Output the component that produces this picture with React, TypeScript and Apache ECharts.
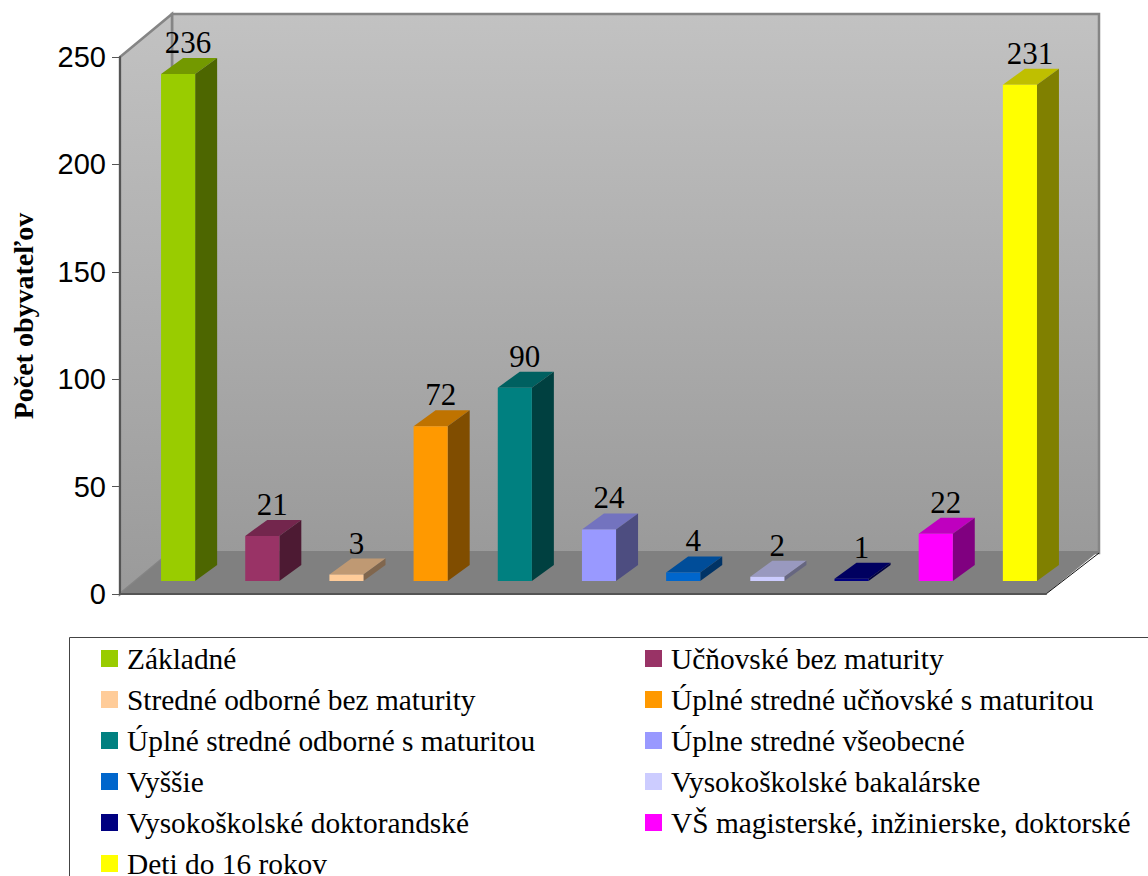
import React, { useEffect, useRef } from "react";
import * as echarts from "echarts";

const categories = [
  "Základné",
  "Učňovské bez maturity",
  "Stredné odborné bez maturity",
  "Úplné stredné učňovské s maturitou",
  "Úplné stredné odborné s maturitou",
  "Úplne stredné všeobecné",
  "Vyššie",
  "Vysokoškolské bakalárske",
  "Vysokoškolské doktorandské",
  "VŠ magisterské, inžinierske, doktorské",
  "Deti do 16 rokov",
];
const values = [236, 21, 3, 72, 90, 24, 4, 2, 1, 22, 231];
const colors = [
  "#99CC00", "#993366", "#FFCC99", "#FF9900", "#008080", "#9999FF",
  "#0066CC", "#CCCCFF", "#000080", "#FF00FF", "#FFFF00",
];
const yTicks = { min: 0, max: 250, interval: 50 };
const yTitle = "Počet obyvateľov";

const SERIF = "'Liberation Serif', 'Times New Roman', serif";
const SANS = "'Liberation Sans', Arial, sans-serif";

const shade = (hex: string, f: number) => {
  const n = parseInt(hex.slice(1), 16);
  const c = (s: number) => Math.round(((n >> s) & 255) * f);
  return `rgb(${c(16)},${c(8)},${c(0)})`;
};

const wallGradient = () =>
  new echarts.graphic.LinearGradient(0, 0, 0, 1, [
    { offset: 0, color: "#c2c2c2" },
    { offset: 1, color: "#9a9a9a" },
  ]);

const renderWalls = (params: any) => {
  const cs = params.coordSys;
  const l = cs.x, t = cs.y, r = cs.x + cs.width, b = cs.y + cs.height;
  const dx = 52, dy = -43, dxr = 53;
  const edge = { stroke: "#858585", lineWidth: 2.5 };
  return {
    type: "group",
    silent: true,
    children: [
      {
        type: "polygon",
        shape: { points: [[l + dx, t + dy], [r + dxr, t + dy], [r + dxr, b + dy + 2], [l + dx, b + dy + 2]] },
        style: { fill: wallGradient(), ...edge },
      },
      {
        type: "polygon",
        shape: { points: [[l, t], [l + dx, t + dy], [l + dx, b + dy], [l, b]] },
        style: { fill: wallGradient(), ...edge },
      },
      {
        type: "polygon",
        shape: { points: [[l, b], [l + dx, b + dy], [r + dxr, b + dy], [r, b]] },
        style: { fill: "#808080" },
      },
      {
        type: "line",
        shape: { x1: r, y1: b, x2: r + dxr, y2: b + dy + 2 },
        style: { stroke: "#111", lineWidth: 1 },
      },
    ],
  };
};

const renderBar = (color: string) => (_params: any, api: any) => {
  const i = api.value(0);
  const v = api.value(1);
  const band = api.size([1, 0])[0];
  const [cx, top0] = api.coord([i, v]);
  const [, base0] = api.coord([i, 0]);
  const w = band * 0.405;
  const shiftX = 16, shiftY = -13, depthX = 22, depthY = -16;
  const x0 = cx + shiftX - w / 2;
  const x1 = x0 + w;
  const top = top0 + shiftY;
  const base = base0 + shiftY;
  return {
    type: "group",
    children: [
      {
        type: "polygon",
        shape: { points: [[x0, top], [x1, top], [x1 + depthX, top + depthY], [x0 + depthX, top + depthY]] },
        style: { fill: shade(color, 0.75) },
      },
      {
        type: "polygon",
        shape: { points: [[x1, top], [x1 + depthX, top + depthY], [x1 + depthX, base + depthY], [x1, base]] },
        style: { fill: shade(color, 0.5) },
      },
      {
        type: "rect",
        shape: { x: x0, y: top, width: w, height: base - top },
        style: { fill: color },
      },
      {
        type: "text",
        style: {
          text: String(v),
          x: (x0 + x1) / 2 + 10,
          y: top + depthY,
          align: "center",
          verticalAlign: "bottom",
          fontSize: 31,
          fontFamily: SERIF,
          fill: "#000",
        },
      },
    ],
  };
};

const legendBase = {
  orient: "vertical",
  selectedMode: false,
  icon: "rect",
  itemWidth: 17,
  itemHeight: 17,
  itemGap: 12,
  padding: 0,
  height: 300,
  textStyle: { fontFamily: SERIF, fontSize: 29.4, lineHeight: 27, color: "#000", padding: [0, 0, 0, 4] },
};

export default function App() {
  const ref = useRef<HTMLDivElement>(null);
  useEffect(() => {
    document.body.style.margin = "0";
    document.body.style.overflow = "hidden";
    const chart = echarts.init(ref.current!, null, { renderer: "svg" });
    chart.setOption({
      animation: false,
      backgroundColor: "#fff",
      grid: { left: 120, top: 57, width: 926, height: 537 },
      xAxis: {
        type: "category",
        data: categories,
        z: 3,
        axisLine: { show: true, lineStyle: { color: "#555", width: 2 } },
        axisTick: { show: false },
        axisLabel: { show: false },
        splitLine: { show: false },
      },
      yAxis: {
        type: "value",
        ...yTicks,
        z: 3,
        axisLine: { show: true, lineStyle: { color: "#555", width: 2 } },
        axisTick: { show: true, length: 8, lineStyle: { color: "#555", width: 1 } },
        axisLabel: { fontFamily: SANS, fontSize: 29, color: "#000", margin: 14 },
        splitLine: { show: false },
      },
      legend: [
        { ...legendBase, left: 101, top: 644, data: categories.filter((_, i) => i % 2 === 0) },
        { ...legendBase, left: 645, top: 644, data: categories.filter((_, i) => i % 2 === 1) },
      ],
      graphic: [
        {
          type: "rect",
          z: 0,
          shape: { x: 69.5, y: 637.5, width: 1200, height: 400 },
          style: { fill: "#fff", stroke: "#444", lineWidth: 1 },
        },
        {
          type: "text",
          x: 23,
          y: 316,
          rotation: Math.PI / 2,
          style: {
            text: yTitle,
            align: "center",
            verticalAlign: "middle",
            fontFamily: SERIF,
            fontWeight: "bold",
            fontSize: 28,
            fill: "#000",
          },
        },
      ],
      series: [
        {
          type: "custom",
          name: "walls",
          z: 1,
          silent: true,
          data: [[0, 0]],
          encode: { x: 0, y: 1 },
          renderItem: renderWalls,
        },
        ...categories.map((name, i) => ({
          type: "custom",
          name,
          z: 4,
          itemStyle: { color: colors[i] },
          data: [[i, values[i]]],
          encode: { x: 0, y: 1 },
          renderItem: renderBar(colors[i]),
        })),
      ],
    });
    return () => chart.dispose();
  }, []);
  return <div ref={ref} style={{ position: "absolute", left: 0, top: 0, width: 1148, height: 876 }} />;
}
